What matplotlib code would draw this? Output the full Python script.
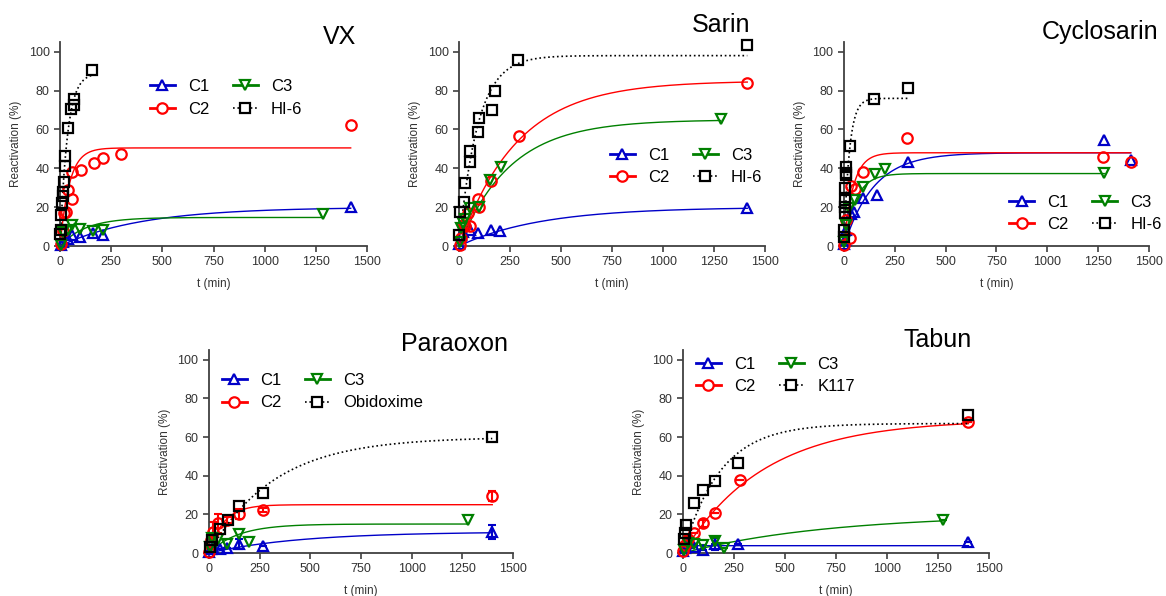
import matplotlib
matplotlib.use('Agg')
import matplotlib.pyplot as plt
from matplotlib.lines import Line2D
import numpy as np

plt.rcParams['font.family'] = ['Liberation Sans', 'DejaVu Sans']

# ---- data: time (min), reactivation (%) ----
# VX
vx_t_c1 = [5, 15, 38, 57, 98, 163, 208, 1420]
vx_c1 = [0.5, 2, 3.5, 5.5, 4.8, 6.5, 5.5, 20]
vx_t_c2 = [5, 15, 20, 30, 41, 60, 60, 101, 166, 212, 298, 1420]
vx_c2 = [1, 7.5, 17, 17.5, 29, 24, 38, 39, 42.5, 45.5, 47.5, 62.5]
vx_t_c3 = [5, 15, 38, 57, 98, 163, 212, 1283]
vx_c3 = [0.5, 7, 8, 11, 9, 7.5, 8.5, 16.5]
vx_t_ref = [2, 5, 5, 10, 13, 15, 20, 24, 24, 41, 54, 68, 68, 155]
vx_ref = [6, 8, 16, 22, 26, 28, 33, 41, 46.5, 60.5, 70.5, 72.5, 75.5, 90.6]

# Sarin
sa_t_c1 = [2, 8, 21, 54, 94, 156, 200, 1413]
sa_c1 = [1, 5.5, 7, 8, 6.9, 8.5, 7.5, 19.8]
sa_t_c2 = [3, 10, 21, 31, 46, 54, 93, 99, 156, 293, 1413]
sa_c2 = [0.5, 4, 11, 10.5, 17.2, 10.5, 24, 20.3, 33.3, 56.5, 84]
sa_t_c3 = [3, 10, 21, 31, 54, 99, 151, 205, 1283]
sa_c3 = [2, 9.5, 12, 14, 19.5, 20, 34, 40.9, 65.5]
sa_t_ref = [2, 5, 25, 31, 54, 54, 91, 98, 160, 176, 290, 1413]
sa_ref = [5.5, 17.4, 22.8, 32.3, 43.5, 49, 58.9, 65.8, 70, 80, 95.5, 103.5]

# Cyclosarin
cy_t_c1 = [2, 5, 10, 34, 47, 94, 161, 313, 1280, 1410]
cy_c1 = [1, 3, 8.5, 16.5, 17.5, 24.5, 26.3, 43, 54.5, 44.3]
cy_t_c2 = [2, 11, 28, 34, 52, 94, 311, 1276, 1410]
cy_c2 = [0.5, 13.5, 4, 30.9, 29.5, 38.2, 55.5, 46, 43.5]
cy_t_c3 = [2, 10, 25, 52, 94, 155, 204, 1280]
cy_c3 = [2, 11, 19.5, 23.5, 30.5, 37, 39.5, 37.5]
cy_t_ref = [1, 2, 3, 4, 5, 6, 8, 10, 12, 28, 150, 313]
cy_ref = [4.5, 8.5, 16.8, 20.3, 23.7, 29.7, 37.5, 40.9, 36.6, 51.5, 75.8, 81.3]

# Paraoxon
pa_t_c1 = [2, 10, 21, 54, 87, 150, 268, 1398]
pa_c1 = [0.5, 2, 2.5, 2.3, 2.6, 4.7, 3.6, 11]
pa_e_c1 = [0, 0, 0, 0, 0, 2.5, 0, 3.5]
pa_t_c2 = [2, 10, 21, 46, 87, 150, 268, 1398]
pa_c2 = [0.5, 6.5, 11, 15.3, 17, 20.1, 22.2, 29.5]
pa_e_c2 = [0, 1, 5, 5, 1.5, 2.5, 1, 2.5]
pa_t_c3 = [5, 15, 46, 87, 150, 197, 1276]
pa_c3 = [3, 8, 7.5, 4.6, 9.8, 5.8, 17]
pa_e_c3 = [0, 0, 0, 0, 0, 0, 0]
pa_t_ref = [5, 15, 54, 92, 150, 265, 1398]
pa_ref = [3, 6.7, 12.2, 17, 24.3, 31, 60]

# Tabun
ta_t_c1 = [2, 10, 25, 56, 97, 157, 268, 1399]
ta_c1 = [1, 2.5, 5, 3.3, 1.5, 4.7, 4.5, 5.8]
ta_e_c1 = [0, 0, 1.5, 0, 0, 3, 0, 0]
ta_t_c2 = [2, 10, 25, 56, 97, 157, 279, 1399]
ta_c2 = [1, 4, 7, 10.6, 15.3, 20.5, 37.6, 68]
ta_e_c2 = [0, 0, 2, 0, 2, 0, 0, 0]
ta_t_c3 = [5, 25, 56, 97, 157, 203, 1276]
ta_c3 = [1.5, 5.3, 4.6, 4, 6.2, 2.7, 17]
ta_e_c3 = [0, 0, 0, 0, 1.5, 0, 0]
ta_t_ref = [5, 10, 15, 56, 97, 157, 268, 1399]
ta_ref = [7, 10.3, 14.4, 25.9, 32.8, 37.3, 46.5, 71.5]

# one-phase association fits: (plateau, k) for C1, C2, C3, reference
vx_fit = [(20, 0.0025), (50.5, 0.022), (14.7, 0.008), (89, 0.028)]
sa_fit = [(20, 0.0025), (85, 0.0035), (65, 0.0040), (98, 0.011)]
cy_fit = [(48, 0.0069), (48, 0.022), (37.3, 0.0173), (76, 0.038)]
pa_fit = [(11, 0.0022), (25, 0.0138), (15, 0.007), (60, 0.0031)]
ta_fit = [(3.8, 1.0), (69, 0.0025), (20, 0.0014), (67, 0.0055)]

names = ['C1', 'C2', 'C3']
colors = ['#0000c8', '#ff0000', '#008000', 'black']
markers = ['^', 'o', 'v', 's']
gray = '#404040'

fig = plt.figure(figsize=(11.66, 5.96), dpi=100)


def panel(rect, title, tpos, series, fits, ref_name, leg_pos):
    ax = fig.add_axes(rect)
    handles = []
    for i, s in enumerate(series):
        t, v = s[0], s[1]
        err = s[2] if len(s) > 2 else None
        c = colors[i]
        A, k = fits[i]
        tt = np.linspace(0, max(t), 400)
        ls = ':' if i == 3 else '-'
        ax.plot(tt, A * (1 - np.exp(-k * tt)), color=c, lw=1.0 if i < 3 else 1.2, ls=ls)
        if err is not None and any(e > 0 for e in err):
            ax.errorbar(t, v, yerr=err, fmt='none', ecolor=c, elinewidth=1.5,
                        capsize=3, capthick=1.5, clip_on=False)
        ax.plot(t, v, ls='none', marker=markers[i], ms=7.5 if i != 3 else 7,
                mfc='none', mec=c, mew=1.6, clip_on=False, zorder=5)
        handles.append(Line2D([0], [0], color=c, lw=2 if i < 3 else 1.2, ls=ls,
                              marker=markers[i], ms=7.5, mfc='white', mec=c, mew=1.6))
    labels = names + [ref_name]
    ax.legend(handles, labels, ncol=2, frameon=False, fontsize=12,
              loc='upper left', bbox_to_anchor=leg_pos, borderaxespad=0,
              handlelength=1.5, columnspacing=1.4, handletextpad=0.8,
              labelspacing=0.45)
    ax.set_xlim(0, 1500)
    ax.set_ylim(0, 105)
    ax.set_xticks([0, 250, 500, 750, 1000, 1250, 1500])
    ax.set_yticks([0, 20, 40, 60, 80, 100])
    for side in ['top', 'right']:
        ax.spines[side].set_visible(False)
    for side in ['left', 'bottom']:
        ax.spines[side].set_color(gray)
        ax.spines[side].set_linewidth(1.3)
    ax.tick_params(direction='out', length=4, width=1.2, color=gray,
                   labelcolor='#333333', labelsize=9)
    ax.set_xlabel('t (min)', fontsize=8.5, color='#333333', labelpad=7)
    ax.set_ylabel('Reactivation (%)', fontsize=8.5, color='#333333', labelpad=5)
    ax.text(tpos[0], tpos[1], title, transform=ax.transAxes, ha='right',
            va='center', fontsize=18)
    return ax


panel([0.0515, 0.5872, 0.2633, 0.3423], 'VX', (0.964, 1.025),
      [(vx_t_c1, vx_c1), (vx_t_c2, vx_c2), (vx_t_c3, vx_c3), (vx_t_ref, vx_ref)],
      vx_fit, 'HI-6', (0.27, 0.85))
panel([0.3937, 0.5872, 0.2624, 0.3423], 'Sarin', (0.951, 1.083),
      [(sa_t_c1, sa_c1), (sa_t_c2, sa_c2), (sa_t_c3, sa_c3), (sa_t_ref, sa_ref)],
      sa_fit, 'HI-6', (0.47, 0.515))
panel([0.7238, 0.5872, 0.2616, 0.3423], 'Cyclosarin', (1.03, 1.05),
      [(cy_t_c1, cy_c1), (cy_t_c2, cy_c2), (cy_t_c3, cy_c3), (cy_t_ref, cy_ref)],
      cy_fit, 'HI-6', (0.52, 0.285))
panel([0.1792, 0.0721, 0.2607, 0.3406], 'Paraoxon', (0.984, 1.03),
      [(pa_t_c1, pa_c1, pa_e_c1), (pa_t_c2, pa_c2, pa_e_c2),
       (pa_t_c3, pa_c3, pa_e_c3), (pa_t_ref, pa_ref)],
      pa_fit, 'Obidoxime', (0.02, 0.92))
panel([0.5858, 0.0721, 0.2624, 0.3406], 'Tabun', (0.944, 1.05),
      [(ta_t_c1, ta_c1, ta_e_c1), (ta_t_c2, ta_c2, ta_e_c2),
       (ta_t_c3, ta_c3, ta_e_c3), (ta_t_ref, ta_ref)],
      ta_fit, 'K117', (0.02, 1.0))

fig.savefig('out.png', dpi=100)
